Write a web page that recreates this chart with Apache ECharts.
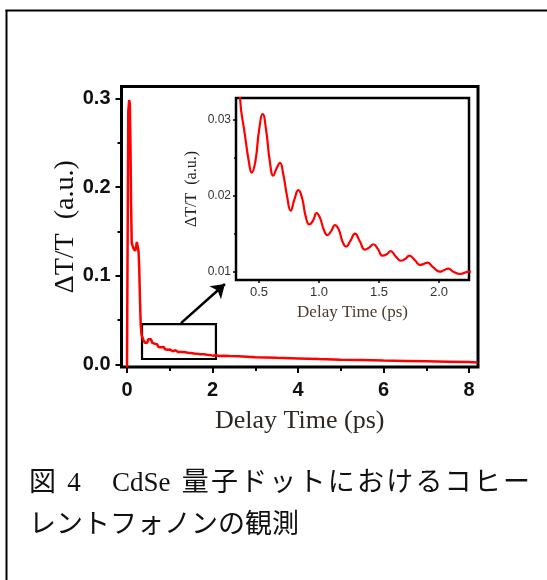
<!DOCTYPE html>
<html>
<head>
<meta charset="utf-8">
<script src="https://cdn.jsdelivr.net/npm/echarts@6.0.0/dist/echarts.min.js"></script>
<style>
html,body{margin:0;padding:0;background:#fff;}
#chart{width:547px;height:580px;}
</style>
</head>
<body>
<div id="chart"></div>
<script>
// ---- data ----
// early transient (ps, ΔT/T)
const earlyTime   = [0.00, 0.01, 0.03, 0.05, 0.065, 0.08, 0.095, 0.11, 0.13, 0.15, 0.17, 0.19, 0.21, 0.23, 0.25, 0.27, 0.285, 0.30, 0.32];
const earlySignal = [-0.003, 0.10, 0.285, 0.298, 0.294, 0.25, 0.18, 0.137, 0.134, 0.131, 0.133, 0.128, 0.132, 0.138, 0.133, 0.127, 0.11, 0.08, 0.045];
// oscillating region
const oscTime   = [0.342, 0.383, 0.415, 0.439, 0.47, 0.50, 0.531, 0.56, 0.59, 0.619, 0.645, 0.675, 0.70, 0.735, 0.764, 0.795, 0.828, 0.86, 0.89, 0.919, 0.95, 0.98, 1.01, 1.04, 1.069, 1.10, 1.133, 1.165, 1.195, 1.225, 1.26, 1.30, 1.34, 1.383, 1.42, 1.453, 1.49, 1.53, 1.565, 1.597, 1.64, 1.683, 1.72, 1.753, 1.80, 1.842, 1.87, 1.903, 1.95, 2.008, 2.04, 2.078, 2.12, 2.175, 2.253];
const oscSignal = [0.0328, 0.0279, 0.0245, 0.0230, 0.0245, 0.0285, 0.0307, 0.0285, 0.0245, 0.0226, 0.0235, 0.0243, 0.0230, 0.0198, 0.0180, 0.0195, 0.0207, 0.0196, 0.0172, 0.0162, 0.0167, 0.0177, 0.0170, 0.0155, 0.0148, 0.0153, 0.0161, 0.0155, 0.0140, 0.0133, 0.0140, 0.0150, 0.0140, 0.0129, 0.0132, 0.0136, 0.0130, 0.0121, 0.0123, 0.0127, 0.0120, 0.01144, 0.0117, 0.0121, 0.0115, 0.0109, 0.0110, 0.0112, 0.0106, 0.0100, 0.0102, 0.0104, 0.0100, 0.0097, 0.0100];
// slow tail
const lateTime   = [2.4, 2.6, 2.8, 3.0, 3.5, 4.0, 4.5, 5.0, 5.5, 6.0, 6.5, 7.0, 7.5, 8.0, 8.2];
const lateSignal = [0.0096, 0.0092, 0.0088, 0.0083, 0.0075, 0.0068, 0.0061, 0.0055, 0.0050, 0.0045, 0.0041, 0.0037, 0.0032, 0.0027, 0.0024];

// tick labels
const mainXTicks = [0, 2, 4, 6, 8];
const mainYTicks = [0.0, 0.1, 0.2, 0.3];
const insetXTicks = [0.5, 1.0, 1.5, 2.0];
const insetYTicks = [0.01, 0.02, 0.03];

// zoom box and arrow (data coords of main plot)
const zoomBox = [[0.351, 0.0062], [2.08, 0.0456]];
const arrowLine = [[1.263, 0.0467], [2.29, 0.0907]];

const xTitle = 'Delay Time (ps)';
const yTitle = 'ΔT/T  (a.u.)';
const captionLine1 = ['図', ' ', '4', '\u3000', 'CdSe', ' ', '量', '子', 'ド', 'ッ', 'ト', 'に', 'お', 'け', 'る', 'コ', 'ヒ', 'ー'];
const captionLine2 = 'レントフォノンの観測';

// ---- build ----
const allTime = earlyTime.concat(oscTime, lateTime);
const allSignal = earlySignal.concat(oscSignal, lateSignal);
const curve = allTime.map((t, i) => [t, allSignal[i]]);

const serif = "'Liberation Serif', 'Noto Sans CJK JP', serif";
const sans = "'Liberation Sans', Arial, sans-serif";
const capFont = "27px " + serif;

// justified first caption line (spread from x0 to x1)
function justified(tokens, x0, x1, top) {
  const ctx = document.createElement('canvas').getContext('2d');
  ctx.font = capFont;
  const w = tokens.map(t => ctx.measureText(t).width);
  const total = w.reduce((a, b) => a + b, 0);
  const gap = (x1 - x0 - total) / (tokens.length - 1);
  let x = x0;
  const out = [];
  tokens.forEach((t, i) => {
    if (t.trim() !== '') out.push({type: 'text', x: x, y: top, style: {text: t, font: capFont, fill: '#111'}});
    x += w[i] + gap;
  });
  return out;
}

const hiddenAxis = (gi, min, max) => ({gridIndex: gi, type: 'value', min: min, max: max, show: false});

const chart = echarts.init(document.getElementById('chart'), null, {renderer: 'canvas'});
chart.setOption({
  animation: false,
  backgroundColor: '#fff',
  grid: [
    {left: 121.5, top: 86.5, width: 356.5, height: 280.5, show: true, borderColor: '#000', borderWidth: 3, backgroundColor: 'transparent'},
    {left: 127, top: 86.5, width: 342, height: 280.5},
    {left: 121.5, top: 98.3, width: 356.5, height: 266.2},
    {left: 236, top: 98, width: 233, height: 182, show: true, borderColor: '#000', borderWidth: 2.5, backgroundColor: '#fff', z: 5},
    {left: 259, top: 98, width: 180, height: 182},
    {left: 236, top: 119.3, width: 233, height: 152.4}
  ],
  xAxis: [
    {gridIndex: 0, type: 'value', min: -0.129, max: 8.21,
      axisLine: {show: false}, axisTick: {show: false}, axisLabel: {show: false}, splitLine: {show: false},
      name: xTitle, nameLocation: 'middle', nameGap: 41,
      nameTextStyle: {fontFamily: serif, fontSize: 26, color: '#2e2620'}},
    {gridIndex: 1, type: 'value', min: mainXTicks[0], max: mainXTicks[mainXTicks.length - 1], interval: 2,
      axisLine: {show: false}, splitLine: {show: false},
      axisTick: {show: true, length: 6, lineStyle: {color: '#000', width: 2}},
      minorTick: {show: true, splitNumber: 2, length: 4, lineStyle: {color: '#000', width: 2}},
      axisLabel: {margin: 13, fontFamily: sans, fontWeight: 'bold', fontSize: 20, color: '#111',
        formatter: v => String(Math.round(v))}},
    hiddenAxis(2, 0, 1),
    {gridIndex: 3, type: 'value', min: 0.3083, max: 2.25,
      axisLine: {show: false}, axisTick: {show: false}, axisLabel: {show: false}, splitLine: {show: false},
      name: xTitle, nameLocation: 'middle', nameGap: 24,
      nameTextStyle: {fontFamily: serif, fontSize: 17, color: '#4a3b2c'}},
    {gridIndex: 4, type: 'value', min: insetXTicks[0], max: insetXTicks[insetXTicks.length - 1], interval: 0.5,
      axisLine: {show: false}, splitLine: {show: false},
      axisTick: {show: true, length: 3, lineStyle: {color: '#000', width: 1.5}},
      axisLabel: {margin: 6, fontFamily: sans, fontSize: 13, color: '#333',
        formatter: v => v.toFixed(1)}},
    hiddenAxis(5, 0, 1)
  ],
  yAxis: [
    {gridIndex: 0, type: 'value', min: -0.0028, max: 0.3133,
      axisLine: {show: false}, axisTick: {show: false}, axisLabel: {show: false}, splitLine: {show: false},
      name: yTitle, nameLocation: 'middle', nameGap: 42, nameRotate: 90,
      nameTextStyle: {fontFamily: serif, fontSize: 28, color: '#111'}},
    hiddenAxis(1, 0, 1),
    {gridIndex: 2, type: 'value', min: mainYTicks[0], max: mainYTicks[mainYTicks.length - 1], interval: 0.1,
      axisLine: {show: false}, splitLine: {show: false},
      axisTick: {show: true, length: 6, lineStyle: {color: '#000', width: 2}},
      minorTick: {show: true, splitNumber: 2, length: 4, lineStyle: {color: '#000', width: 2}},
      axisLabel: {margin: 11, fontFamily: sans, fontWeight: 'bold', fontSize: 20, color: '#111',
        formatter: v => v.toFixed(1)}},
    {gridIndex: 3, type: 'value', min: 0.00891, max: 0.0328,
      axisLine: {show: false}, axisTick: {show: false}, axisLabel: {show: false}, splitLine: {show: false},
      name: yTitle, nameLocation: 'middle', nameGap: 36, nameRotate: 90,
      nameTextStyle: {fontFamily: serif, fontSize: 16, color: '#222'}},
    hiddenAxis(4, 0, 1),
    {gridIndex: 5, type: 'value', min: insetYTicks[0], max: insetYTicks[insetYTicks.length - 1], interval: 0.01,
      axisLine: {show: false}, splitLine: {show: false},
      axisTick: {show: true, length: 3, lineStyle: {color: '#000', width: 1.5}},
      minorTick: {show: true, splitNumber: 2, length: 2, lineStyle: {color: '#000', width: 1.5}},
      axisLabel: {margin: 5, fontFamily: sans, fontSize: 12, color: '#333',
        formatter: v => v.toFixed(2)}}
  ],
  series: [
    {type: 'line', xAxisIndex: 0, yAxisIndex: 0, data: curve, showSymbol: false, symbol: 'none',
      lineStyle: {color: '#ff0000', width: 2.5}, itemStyle: {color: '#ff0000'}, z: 3,
      markArea: {silent: true, itemStyle: {color: 'rgba(0,0,0,0)', borderColor: '#000', borderWidth: 2.2},
        data: [[{coord: zoomBox[0]}, {coord: zoomBox[1]}]]},
      markLine: {silent: true, symbol: ['none', 'arrow'], symbolSize: 13, label: {show: false},
        lineStyle: {color: '#000', width: 2.5, type: 'solid'},
        data: [[{coord: arrowLine[0]}, {coord: arrowLine[1]}]]}},
    {type: 'line', xAxisIndex: 3, yAxisIndex: 3, data: curve, showSymbol: false, symbol: 'none', smooth: 0.5,
      lineStyle: {color: '#ff0000', width: 2.2}, itemStyle: {color: '#ff0000'}, z: 6}
  ],
  graphic: [
    {type: 'line', shape: {x1: 5.5, y1: 10.5, x2: 547, y2: 10.5}, style: {stroke: '#000', lineWidth: 2}},
    {type: 'line', shape: {x1: 6.5, y1: 10, x2: 6.5, y2: 580}, style: {stroke: '#000', lineWidth: 2}},
    {type: 'group', children: justified(captionLine1, 29, 530, 470)},
    {type: 'text', x: 29, y: 512, style: {text: captionLine2, font: capFont, fill: '#111'}}
  ]
});
</script>
</body>
</html>
